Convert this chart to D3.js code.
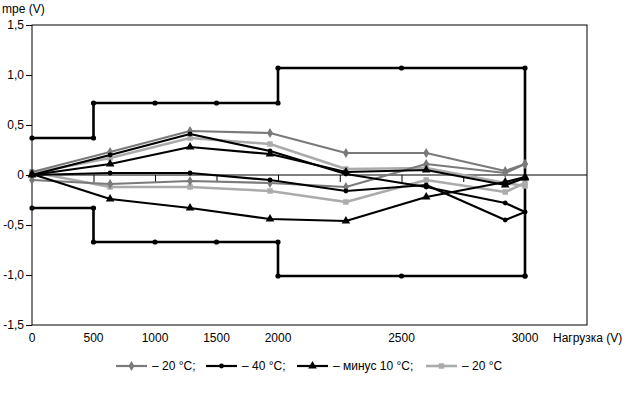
<!DOCTYPE html>
<html><head><meta charset="utf-8">
<script src="https://cdn.jsdelivr.net/npm/d3@7"></script>
<style>body{margin:0;background:#fff}svg{display:block}text{font-family:"Liberation Sans",Arial,sans-serif;font-size:12px;fill:#000}</style>
</head><body><svg id="c" width="636" height="395"></svg>
<script>
// Data
const loads = [0, 635, 1285, 1935, 2275, 2600, 2920, 3000];
const grayUp   = [0.03, 0.23, 0.44, 0.42, 0.22, 0.22, 0.04, 0.11];
const grayLow  = [-0.05, -0.09, -0.06, -0.08, -0.12, 0.11, 0.02, 0.11];
const blackUp  = [0.00, 0.20, 0.41, 0.24, 0.01, -0.12, -0.28, -0.37];
const blackLow = [0.00, 0.02, 0.02, -0.05, -0.16, -0.10, -0.45, -0.37];
const triUp    = [0.00, 0.11, 0.28, 0.21, 0.03, 0.05, -0.10, -0.03];
const triLow   = [0.01, -0.24, -0.33, -0.44, -0.46, -0.22, -0.07, -0.02];
const lightUp  = [0.02, 0.17, 0.37, 0.31, 0.06, 0.07, -0.08, -0.11];
const lightLow = [0.03, -0.12, -0.12, -0.16, -0.27, -0.05, -0.17, -0.08];
const limitUpX = [0, 500, 500, 1000, 1500, 2000, 2000, 2500, 3000, 3000];
const limitUpY = [0.37, 0.37, 0.72, 0.72, 0.72, 0.72, 1.07, 1.07, 1.07, -1.01];
const limitLoX = [0, 500, 500, 1000, 1500, 2000, 2000, 2500, 3000];
const limitLoY = [-0.33, -0.33, -0.67, -0.67, -0.67, -0.67, -1.01, -1.01, -1.01];
const yTicks = [1.5, 1.0, 0.5, 0, -0.5, -1.0, -1.5];
const yTickLabels = ["1,5", "1,0", "0,5", "0", "-0,5", "-1,0", "-1,5"];
const xTicks = [0, 500, 1000, 1500, 2000, 2250, 2500, 2750, 3000];
const xTickLabels = ["0", "500", "1000", "1500", "2000", "", "2500", "", "3000"];
const legendLabels = ["– 20 °C;", "– 40 °C;", "– минус 10 °C;", "– 20 °C"];

const svg = d3.select("#c");
const L = 32, R = 587, T = 25, B = 325;
const x = d3.scaleLinear().domain([0, 2000, 3000]).range([L, 278, 525]);
const y = d3.scaleLinear().domain([-1.5, 1.5]).range([B, T]);

// frame
svg.append("rect").attr("x", L).attr("y", T).attr("width", R - L).attr("height", B - T)
  .attr("fill", "none").attr("stroke", "#000").attr("stroke-width", 1);

// y axis
const yAxis = d3.axisLeft(y).tickValues(yTicks).tickSize(6).tickPadding(2)
  .tickFormat((d, i) => yTickLabels[i]);
const gy = svg.append("g").attr("transform", `translate(${L},0)`).call(yAxis);
gy.select(".domain").remove();
gy.selectAll("text").style("font-family", '"Liberation Sans",Arial,sans-serif').style("font-size", "12px");

// x axis at zero
const xAxis = d3.axisBottom(x).tickValues(xTicks).tickSize(7).tickFormat("");
const gx = svg.append("g").attr("transform", `translate(0,${y(0)})`).call(xAxis);
gx.select(".domain").attr("d", `M${L},0H${R}`);
// x labels at bottom
svg.append("g").selectAll("text").data(xTicks.map((v, i) => ({v, t: xTickLabels[i]})).filter(d => d.t))
  .join("text").attr("x", d => x(d.v)).attr("y", 342).attr("text-anchor", "middle").text(d => d.t);
svg.append("text").attr("x", 553).attr("y", 342).text("Нагрузка (V)");
svg.append("text").attr("x", 2).attr("y", 13).text("mpe (V)");

// limits
const limLine = d3.line().x(d => x(d[0])).y(d => y(d[1]));
[[limitUpX, limitUpY], [limitLoX, limitLoY]].forEach(([xs, ys]) => {
  const pts = xs.map((v, i) => [v, ys[i]]);
  svg.append("path").attr("d", limLine(pts)).attr("fill", "none").attr("stroke", "#000").attr("stroke-width", 2.6);
  svg.append("g").selectAll("circle").data(pts).join("circle")
    .attr("cx", d => x(d[0])).attr("cy", d => y(d[1])).attr("r", 2.6).attr("fill", "#000");
});

// series
const styles = {
  gray:  {color: "#7a7a7a", w: 2.2, sym: d3.symbolDiamond, size: 30},
  black: {color: "#000", w: 2.2, sym: d3.symbolCircle, size: 18},
  tri:   {color: "#000", w: 2.2, sym: d3.symbolTriangle, size: 32},
  light: {color: "#ababab", w: 2.6, sym: d3.symbolSquare, size: 30}
};
const series = [
  ["light", lightLow], ["light", lightUp],
  ["gray", grayLow], ["gray", grayUp],
  ["tri", triLow], ["tri", triUp],
  ["black", blackLow], ["black", blackUp]
];
const line = d3.line().x((d, i) => x(loads[i])).y(d => y(d));
series.forEach(([k, vals]) => {
  const s = styles[k];
  svg.append("path").attr("d", line(vals)).attr("fill", "none").attr("stroke", s.color)
    .attr("stroke-width", s.w).attr("stroke-linejoin", "round");
  svg.append("g").selectAll("path").data(vals).join("path")
    .attr("transform", (d, i) => `translate(${x(loads[i])},${y(d)})`)
    .attr("d", d3.symbol(s.sym, s.size)).attr("fill", s.color);
});

// legend
const legKeys = ["gray", "black", "tri", "light"];
const legX = [116, 206, 297, 426];
const legY = 366;
legKeys.forEach((k, i) => {
  const s = styles[k];
  const g = svg.append("g");
  g.append("line").attr("x1", legX[i]).attr("x2", legX[i] + 31).attr("y1", legY).attr("y2", legY)
    .attr("stroke", s.color).attr("stroke-width", s.w);
  g.append("path").attr("transform", `translate(${legX[i] + 15.5},${legY})`)
    .attr("d", d3.symbol(s.sym, s.size)).attr("fill", s.color);
  g.append("text").attr("x", legX[i] + 36).attr("y", legY + 4).text(legendLabels[i]);
});
</script></body></html>
